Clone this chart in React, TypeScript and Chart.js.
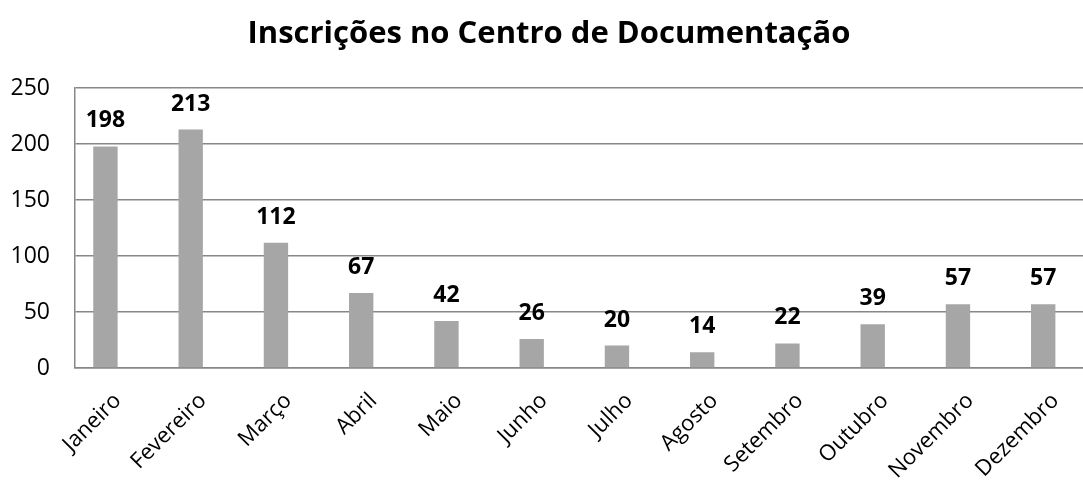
import React, { useEffect, useRef } from "react";
import { Chart, registerables } from "chart.js";

Chart.register(...registerables);

const categories = [
  "Janeiro",
  "Fevereiro",
  "Março",
  "Abril",
  "Maio",
  "Junho",
  "Julho",
  "Agosto",
  "Setembro",
  "Outubro",
  "Novembro",
  "Dezembro",
];
const inscricoes = [198, 213, 112, 67, 42, 26, 20, 14, 22, 39, 57, 57];
const emptySeries = [null, null, null, null, null, null, null, null, null, null, null, null];
const yMin = 0;
const yMax = 250;
const yStep = 50;
const titleText = "Inscrições no Centro de Documentação";

const FONT = '"Open Sans", "DejaVu Sans", sans-serif';

const valueLabels = {
  id: "valueLabels",
  afterDatasetsDraw(chart: any) {
    const ctx = chart.ctx;
    const meta = chart.getDatasetMeta(0);
    const data = chart.data.datasets[0].data;
    ctx.save();
    ctx.font = `bold 23px ${FONT}`;
    ctx.fillStyle = "#000000";
    ctx.textAlign = "center";
    ctx.textBaseline = "alphabetic";
    meta.data.forEach((bar: any, i: number) => {
      ctx.fillText(String(data[i]), bar.x, bar.y - 19);
    });
    ctx.restore();
  },
};

export default function App() {
  const canvasRef = useRef<HTMLCanvasElement | null>(null);

  useEffect(() => {
    if (!canvasRef.current) return;
    const chart = new Chart(canvasRef.current, {
      type: "bar",
      data: {
        labels: categories,
        datasets: [
          {
            label: "Inscrições",
            data: inscricoes,
            backgroundColor: "#A6A6A6",
            borderWidth: 0,
          },
          {
            label: "",
            data: emptySeries as any,
            backgroundColor: "rgba(0,0,0,0)",
            borderWidth: 0,
          },
        ],
      },
      options: {
        responsive: false,
        animation: false,
        events: [],
        layout: { padding: { left: 0, right: 18, top: 0, bottom: 0 } },
        datasets: {
          bar: { categoryPercentage: 2 / 3.5, barPercentage: 1 },
        },
        plugins: {
          legend: { display: false },
          tooltip: { enabled: false },
          title: {
            display: true,
            text: titleText,
            color: "#000000",
            font: { family: FONT, size: 31, weight: "bold" },
            padding: { top: 16, bottom: 35 },
          },
        },
        scales: {
          x: {
            grid: { display: false },
            border: { display: true, color: "#878787", width: 1.5 },
            ticks: {
              color: "#000000",
              font: { family: FONT, size: 22 },
              minRotation: 45,
              maxRotation: 45,
              padding: 12,
              autoSkip: false,
            },
            afterFit(scale: any) {
              scale.height = 114;
            },
          },
          y: {
            min: yMin,
            max: yMax,
            ticks: {
              stepSize: yStep,
              color: "#000000",
              font: { family: FONT, size: 23 },
              padding: 25,
            },
            grid: { color: "#878787", lineWidth: 1.5, drawTicks: false },
            border: { display: true, color: "#878787", width: 1.5 },
            afterFit(scale: any) {
              scale.width = 75;
            },
          },
        },
      },
      plugins: [valueLabels],
    });
    return () => chart.destroy();
  }, []);

  return (
    <div
      style={{
        position: "absolute",
        left: 0,
        top: 0,
        width: 1083,
        height: 482,
        overflow: "hidden",
        background: "#ffffff",
      }}
    >
      <canvas
        ref={canvasRef}
        width={1116}
        height={482}
        style={{ width: 1116, height: 482, display: "block" }}
      />
    </div>
  );
}
